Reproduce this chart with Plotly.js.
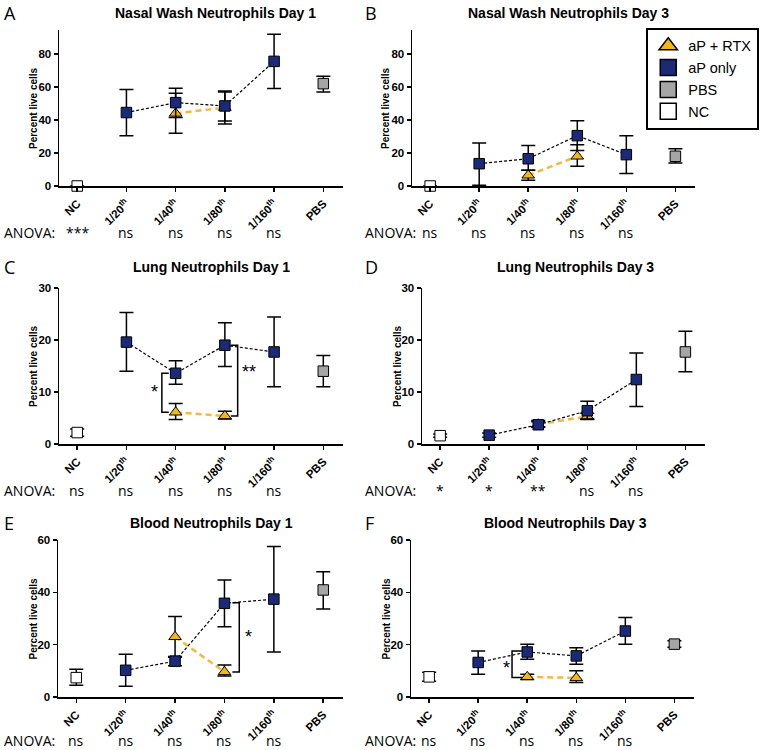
<!DOCTYPE html>
<html>
<head>
<meta charset="utf-8">
<script src="https://cdn.plot.ly/plotly-3.0.1.min.js"></script>
<style>html,body{margin:0;padding:0;background:#fff}#chart{width:760px;height:750px}</style>
</head>
<body>
<div id="chart"></div>
<script>
// ---------- data ----------
const categories = ['NC', '1/20<sup>th</sup>', '1/40<sup>th</sup>', '1/80<sup>th</sup>', '1/160<sup>th</sup>', 'PBS'];
const catIndex = [0, 1, 2, 3, 4, 5];
const apX = [1, 2, 3, 4];
const rtxX = [2, 3];

const panelTitles = ['Nasal Wash Neutrophils Day 1', 'Nasal Wash Neutrophils Day 3',
  'Lung Neutrophils Day 1', 'Lung Neutrophils Day 3',
  'Blood Neutrophils Day 1', 'Blood Neutrophils Day 3'];
const panelLetters = ['A', 'B', 'C', 'D', 'E', 'F'];

// aP only (1/20 .. 1/160): mean, upper, lower
const apMean = [[44.5, 50.5, 48.5, 75.5], [13.5, 16.5, 30.5, 19], [19.6, 13.6, 19, 17.7],
  [1.7, 3.7, 6.4, 12.4], [10.2, 13.7, 35.8, 37.4], [13.2, 17.2, 15.7, 25.2]];
const apUpper = [[58.5, 59.2, 57.6, 92], [26, 24.5, 39.5, 30.5], [25.3, 16, 23.3, 24.4],
  [2.1, 4.5, 8.2, 17.5], [16.3, 15.5, 44.7, 57.5], [17.6, 20.2, 18.8, 30.4]];
const apLower = [[30.5, 41.5, 39.4, 59], [0.5, 9.5, 21.5, 7.5], [14, 11.5, 14.9, 11],
  [1.3, 3.2, 4.8, 7.2], [4.1, 11.9, 26.8, 17.2], [8.7, 14.4, 12.5, 20.2]];

// aP + RTX (1/40, 1/80)
const rtxMean = [[44, 47.5], [6.5, 18], [6.1, 5.4], [3.8, 5.3], [23, 9.6], [7.7, 7.3]];
const rtxUpper = [[56.2, 57], [9.5, 25], [7.8, 6.3], [4.3, 5.9], [30.8, 12.2], [8.7, 10]];
const rtxLower = [[32, 37.6], [3.5, 12], [4.7, 4.8], [3.3, 4.7], [15.2, 8], [6.7, 5.5]];

// PBS
const pbsMean = [62, 18, 14, 17.7, 40.9, 20.2];
const pbsUpper = [66.5, 22.5, 17, 21.7, 47.9, 21.5];
const pbsLower = [57, 14, 11, 13.9, 33.6, 19];

// NC
const ncMean = [0, 0, 2.2, 1.6, 7.4, 7.7];
const ncUpper = [0, 0, 2.9, 1.9, 10.6, 9.5];
const ncLower = [0, 0, 1.5, 1.3, 4.5, 6];

// ANOVA labels (NC .. 1/160)
const anova = [['***', 'ns', 'ns', 'ns', 'ns'], ['ns', 'ns', 'ns', 'ns', 'ns'],
  ['ns', 'ns', 'ns', 'ns', 'ns'], ['*', '*', '**', 'ns', 'ns'],
  ['ns', 'ns', 'ns', 'ns', 'ns'], ['ns', 'ns', 'ns', 'ns', 'ns']];

const yMax = [94.5, 94.5, 30, 30, 60, 60];
const yTicks = [[0, 20, 40, 60, 80], [0, 20, 40, 60, 80], [0, 10, 20, 30], [0, 10, 20, 30], [0, 20, 40, 60], [0, 20, 40, 60]];

// significance brackets: [panel, xBar, xTick, yTop, yBottom, label, xLabel, yLabel]
const brackets = [
  [2, 1.72, 1.86, 13.6, 6.1, '*', 1.57, 10],
  [2, 3.26, 3.12, 19, 5.4, '**', 3.5, 13.8],
  [4, 3.3, 3.16, 36, 9.6, '*', 3.48, 23],
  [5, 1.69, 1.9, 17.6, 7.5, '*', 1.57, 10.9]
];

// ---------- layout geometry (px) ----------
const W = 760, H = 750;
const xPx = [[59, 343], [412, 695], [59, 343], [422, 705], [58, 343], [411, 694]];
const yPx = [[30, 186], [30, 186], [288, 444], [288, 444], [540, 697], [540, 697]];
const titlePos = [[215, 13], [568, 13], [212, 267], [575, 267], [212, 523], [565, 523]];
const letterPos = [[2, 13], [363, 13], [2, 267], [363, 267], [2, 523], [363, 523]];
const anovaY = [233, 233, 491, 491, 740, 740];
const yTitleX = [33, 385, 33, 397, 33, 386];

const NAVY = '#1b2a78', GOLD = '#f5b614', GREY = '#a5a5a5', ORANGE = '#f6b83c';
const boldFont = {family: 'Liberation Sans, Arial, sans-serif', color: '#000', weight: 'bold'};
const plainFont = {family: 'Open Sans, Liberation Sans, sans-serif', color: '#000'};

const traces = [];
const layout = {
  width: W, height: H, margin: {l: 0, r: 0, t: 0, b: 0},
  paper_bgcolor: '#fff', plot_bgcolor: 'rgba(0,0,0,0)',
  showlegend: true,
  legend: {x: 0.999, xanchor: 'right', y: 0.963, yanchor: 'top', bordercolor: '#000', borderwidth: 2,
    bgcolor: '#fff', font: {family: 'Liberation Sans, Arial, sans-serif', size: 14.5, color: '#000'},
    traceorder: 'normal', itemsizing: 'trace', itemwidth: 30},
  annotations: [], shapes: []
};

function errs(mean, up, lo) {
  return {type: 'data', symmetric: false, array: up.map((u, i) => u - mean[i]),
    arrayminus: lo.map((l, i) => mean[i] - l), color: '#000', thickness: 1.5, width: 7};
}

for (let p = 0; p < 6; p++) {
  const sfx = p === 0 ? '' : String(p + 1);
  const xa = 'x' + sfx, ya = 'y' + sfx;
  layout['xaxis' + sfx] = {
    domain: [xPx[p][0] / W, xPx[p][1] / W], anchor: ya, range: [-0.37, 5.4],
    tickmode: 'array', tickvals: catIndex, ticktext: categories, tickangle: -45,
    showline: true, linecolor: '#000', linewidth: 1.5, ticks: 'outside', ticklen: 4, tickwidth: 1.5,
    tickcolor: '#000', showgrid: false, zeroline: false, automargin: false, ticklabelstandoff: 1,
    tickfont: Object.assign({size: 11.5}, boldFont)
  };
  layout['yaxis' + sfx] = {
    domain: [1 - yPx[p][1] / H, 1 - yPx[p][0] / H], anchor: xa, range: [0, yMax[p]],
    tickmode: 'array', tickvals: yTicks[p], showline: true, linecolor: '#000', linewidth: 1.5,
    ticks: 'outside', ticklen: 4, tickwidth: 1.5, tickcolor: '#000', showgrid: false, zeroline: false,
    automargin: false, tickfont: Object.assign({size: 11.5}, boldFont)
  };

  // RTX line + markers
  traces.push({x: rtxX, y: rtxMean[p], xaxis: xa, yaxis: ya, mode: 'lines', showlegend: false, hoverinfo: 'skip',
    line: {color: ORANGE, width: 2.5, dash: '6px,4px'}});
  traces.push({x: rtxX, y: rtxMean[p], xaxis: xa, yaxis: ya, mode: 'markers', showlegend: false, cliponaxis: false,
    marker: {symbol: 'triangle-up', size: 11, color: GOLD, line: {color: '#000', width: 1}},
    error_y: errs(rtxMean[p], rtxUpper[p], rtxLower[p])});
  // aP only line + markers
  traces.push({x: apX, y: apMean[p], xaxis: xa, yaxis: ya, mode: 'lines', showlegend: false, hoverinfo: 'skip',
    line: {color: '#000', width: 1.2, dash: '3px,2px'}});
  traces.push({x: apX, y: apMean[p], xaxis: xa, yaxis: ya, mode: 'markers', showlegend: false, cliponaxis: false,
    marker: {symbol: 'square', size: 10.5, color: NAVY, line: {color: '#000', width: 1}},
    error_y: errs(apMean[p], apUpper[p], apLower[p])});
  // PBS
  traces.push({x: [5], y: [pbsMean[p]], xaxis: xa, yaxis: ya, mode: 'markers', showlegend: false, cliponaxis: false,
    marker: {symbol: 'square', size: 10.5, color: GREY, line: {color: '#000', width: 1}},
    error_y: errs([pbsMean[p]], [pbsUpper[p]], [pbsLower[p]])});
  // NC
  traces.push({x: [0], y: [ncMean[p]], xaxis: xa, yaxis: ya, mode: 'markers', showlegend: false, cliponaxis: false,
    marker: {symbol: 'square', size: 10.5, color: '#fff', line: {color: '#000', width: 1}},
    error_y: errs([ncMean[p]], [ncUpper[p]], [ncLower[p]])});

  // titles, letters, y titles
  layout.annotations.push({text: panelTitles[p], xref: 'paper', yref: 'paper', x: titlePos[p][0] / W, y: 1 - titlePos[p][1] / H,
    xanchor: 'center', yanchor: 'middle', showarrow: false, font: Object.assign({size: 14}, boldFont)});
  layout.annotations.push({text: panelLetters[p], xref: 'paper', yref: 'paper', x: letterPos[p][0] / W, y: 1 - letterPos[p][1] / H,
    xanchor: 'left', yanchor: 'middle', showarrow: false, font: Object.assign({size: 18}, plainFont)});
  layout.annotations.push({text: 'Percent live cells', xref: 'paper', yref: 'paper', x: yTitleX[p] / W,
    y: 1 - (yPx[p][0] + yPx[p][1]) / 2 / H, textangle: -90, xanchor: 'center', yanchor: 'middle', showarrow: false,
    font: Object.assign({size: 10}, boldFont)});
  // ANOVA row
  layout.annotations.push({text: 'ANOVA:', xref: 'paper', yref: 'paper', x: letterPos[p][0] / W, y: 1 - anovaY[p] / H,
    xanchor: 'left', yanchor: 'middle', showarrow: false, font: Object.assign({size: 14}, plainFont)});
  anova[p].forEach((t, i) => {
    layout.annotations.push({text: t, xref: xa, yref: 'paper', x: catIndex[i], y: 1 - anovaY[p] / H,
      xanchor: 'center', yanchor: 'middle', showarrow: false, font: Object.assign({size: 14}, plainFont)});
  });
}

// brackets
brackets.forEach(b => {
  const sfx = b[0] === 0 ? '' : String(b[0] + 1);
  layout.shapes.push({type: 'path', xref: 'x' + sfx, yref: 'y' + sfx,
    path: `M ${b[2]},${b[3]} L ${b[1]},${b[3]} L ${b[1]},${b[4]} L ${b[2]},${b[4]}`,
    line: {color: '#000', width: 1.5}});
  layout.annotations.push({text: b[5], xref: 'x' + sfx, yref: 'y' + sfx, x: b[6], y: b[7], showarrow: false,
    xanchor: 'center', yanchor: 'middle', font: {family: 'Liberation Sans, Arial, sans-serif', size: 18, color: '#000'}});
});

// legend entries
const legendItems = [
  ['aP + RTX', 'triangle-up', GOLD],
  ['aP only', 'square', NAVY],
  ['PBS', 'square', GREY],
  ['NC', 'square', '#fff']
];
legendItems.forEach(l => {
  traces.push({x: [null], y: [null], mode: 'markers', name: l[0], showlegend: true, hoverinfo: 'skip',
    marker: {symbol: l[1], size: 16, color: l[2], line: {color: '#000', width: 1.5}}});
});

Plotly.newPlot('chart', traces, layout, {staticPlot: true, displayModeBar: false});
</script>
</body>
</html>
